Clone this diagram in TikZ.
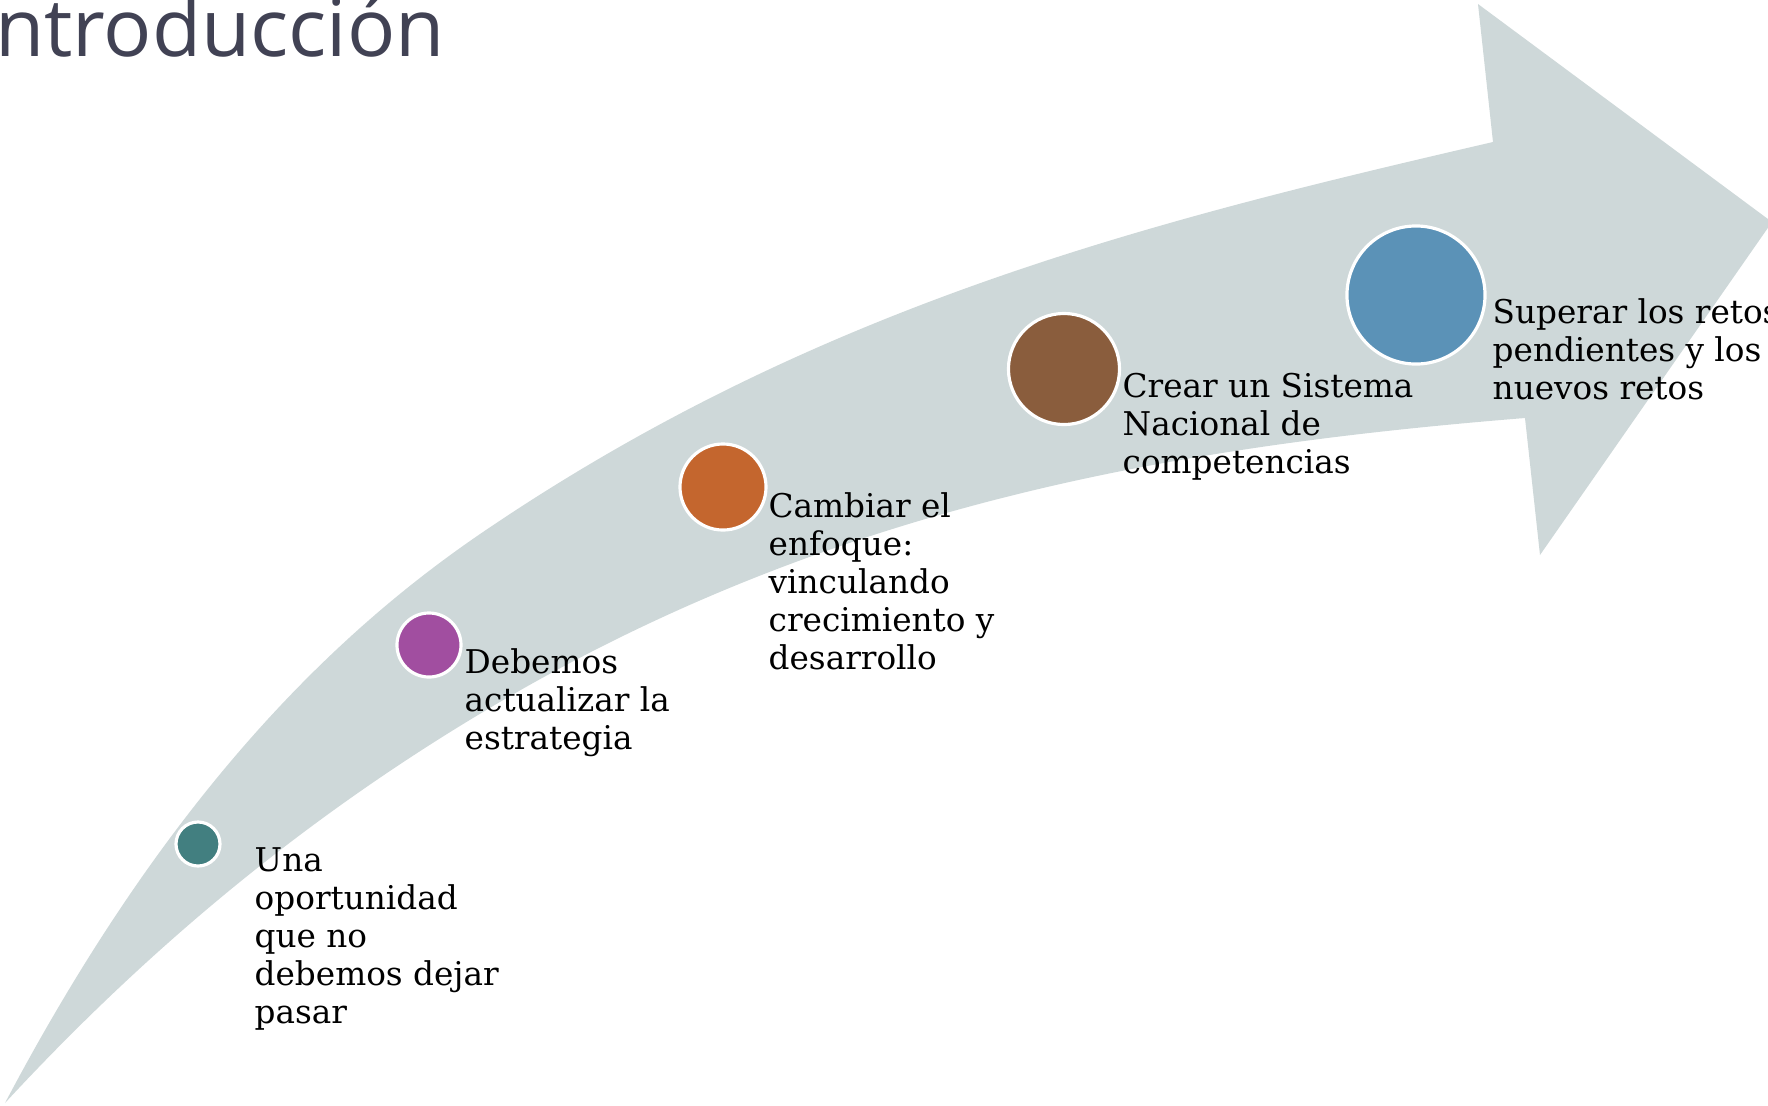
\documentclass[tikz,border=0pt]{standalone}
\usepackage{fontspec}
\setmainfont{DejaVu Serif}
\newfontfamily\titlefont{Open Sans}
\usepackage{tikz}

\definecolor{band}{HTML}{CED8D9}
\definecolor{titlegray}{HTML}{414254}
\definecolor{tealdot}{HTML}{427F80}
\definecolor{purpledot}{HTML}{A14EA0}
\definecolor{orangedot}{HTML}{C4662E}
\definecolor{browndot}{HTML}{8A5D3D}
\definecolor{bluedot}{HTML}{5B92B7}

\tikzset{
  dot/.style={circle, draw=white, line width=0.9pt, inner sep=0pt},
  steptext/.style={anchor=base west, align=left, inner sep=0pt,
    font=\fontsize{9.3pt}{10.8pt}\selectfont}
}

\begin{document}
\begin{tikzpicture}[x=0.01cm, y=-0.01cm]
    \useasboundingbox (0, 0) rectangle (1768, 1105);
    \clip (0, 0) rectangle (1768, 1105);

    % curved arrow: upper edge, head, lower edge
    \fill [band] (5, 1103) .. controls (165, 800) and (330, 636) .. (483, 532)
    .. controls (820, 303) and (1156, 220) .. (1493, 142)
    -- (1478, 4) -- (1772, 222) -- (1540, 555) -- (1525, 418)
    .. controls (1178, 446) and (830, 504) .. (483, 712)
    .. controls (324, 807) and (164, 931) .. (5, 1103) -- cycle;

    \node [anchor=base west, inner sep=0pt, text=titlegray,
    font=\titlefont\fontsize{22.8pt}{26pt}\selectfont] (title) at (-28, 56)
    {Introducción};

    \node [dot, fill=tealdot, minimum size=0.44cm] (c1) at (198, 844) {};
    \node [dot, fill=purpledot, minimum size=0.64cm] (c2) at (429, 645) {};
    \node [dot, fill=orangedot, minimum size=0.86cm] (c3) at (723, 487) {};
    \node [dot, fill=browndot, minimum size=1.11cm] (c4) at (1064, 369) {};
    \node [dot, fill=bluedot, minimum size=1.38cm] (c5) at (1416, 295) {};

    % the base of a text block is the base line of its last line
    \node [steptext] (t1) at (254, 1023)
    {Una\\oportunidad\\que no\\debemos dejar\\pasar};
    \node [steptext] (t2) at (464, 749)
    {Debemos\\actualizar la\\estrategia};
    \node [steptext] (t3) at (768, 669)
    {Cambiar el\\enfoque:\\vinculando\\crecimiento y\\desarrollo};
    \node [steptext] (t4) at (1122, 473)
    {Crear un Sistema\\Nacional de\\competencias};
    \node [steptext] (t5) at (1492, 399)
    {Superar los retos\\pendientes y los\\nuevos retos};

  \end{tikzpicture}
\end{document}
